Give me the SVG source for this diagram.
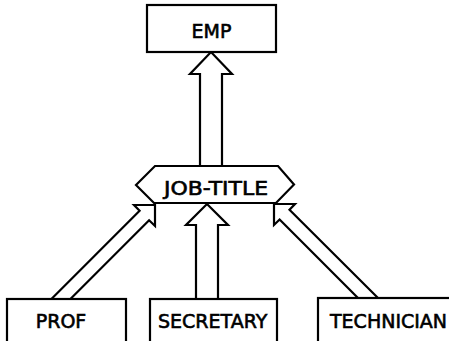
<svg xmlns="http://www.w3.org/2000/svg" width="449" height="341" viewBox="0 0 449 341">
  <style>
    .box { fill: #ffffff; stroke: #000000; stroke-width: 2.2; stroke-linejoin: miter; }
    .arrow { fill: #ffffff; stroke: #000000; stroke-width: 2.2; stroke-linejoin: miter; }
    .label { font-family: "DejaVu Sans", "Liberation Sans", sans-serif; font-size: 19px; fill: #000000; stroke: #000000; stroke-width: 0.6; }
    .mid { text-anchor: middle; }
  </style>
  <rect width="449" height="341" fill="#ffffff"/>

  <!-- hollow "is-a" arrows -->
  <g id="connectors">
    <!-- JOB-TITLE to EMP -->
    <polyline class="arrow" points="200,166 200,74 190,74 211,52 232,74 222,74 222,166"/>
    <!-- PROF to JOB-TITLE -->
    <polyline class="arrow" points="51.4,299 139.6,210.8 134,205 155,205 155,226 149.1,220.3 70.4,299"/>
    <!-- SECRETARY to JOB-TITLE -->
    <polyline class="arrow" points="196,299 196,225 186,225 207,204 228,225 218,225 218,299"/>
    <!-- TECHNICIAN to JOB-TITLE -->
    <polyline class="arrow" points="378,298 289.5,209.7 295,204 274,204 274,225 279.6,219.5 358,298"/>
  </g>

  <g id="node-emp">
    <rect class="box" x="147" y="5" width="129" height="47"/>
    <text class="label mid" x="211.5" y="38">EMP</text>
  </g>

  <g id="node-job-title">
    <polygon class="box" points="136,185 155,166 278,166 294,184.5 276,203 154,203"/>
    <text class="label" x="164" y="195" textLength="104" lengthAdjust="spacingAndGlyphs">JOB-TITLE</text>
  </g>

  <g id="node-prof">
    <rect class="box" x="7" y="299" width="119" height="50"/>
    <text class="label mid" x="61" y="328">PROF</text>
  </g>

  <g id="node-secretary">
    <rect class="box" x="150" y="299" width="127" height="50"/>
    <text class="label" x="158" y="328">SECRETARY</text>
  </g>

  <g id="node-technician">
    <rect class="box" x="318" y="298" width="140" height="51"/>
    <text class="label" x="330" y="328">TECHNICIAN</text>
  </g>
</svg>
